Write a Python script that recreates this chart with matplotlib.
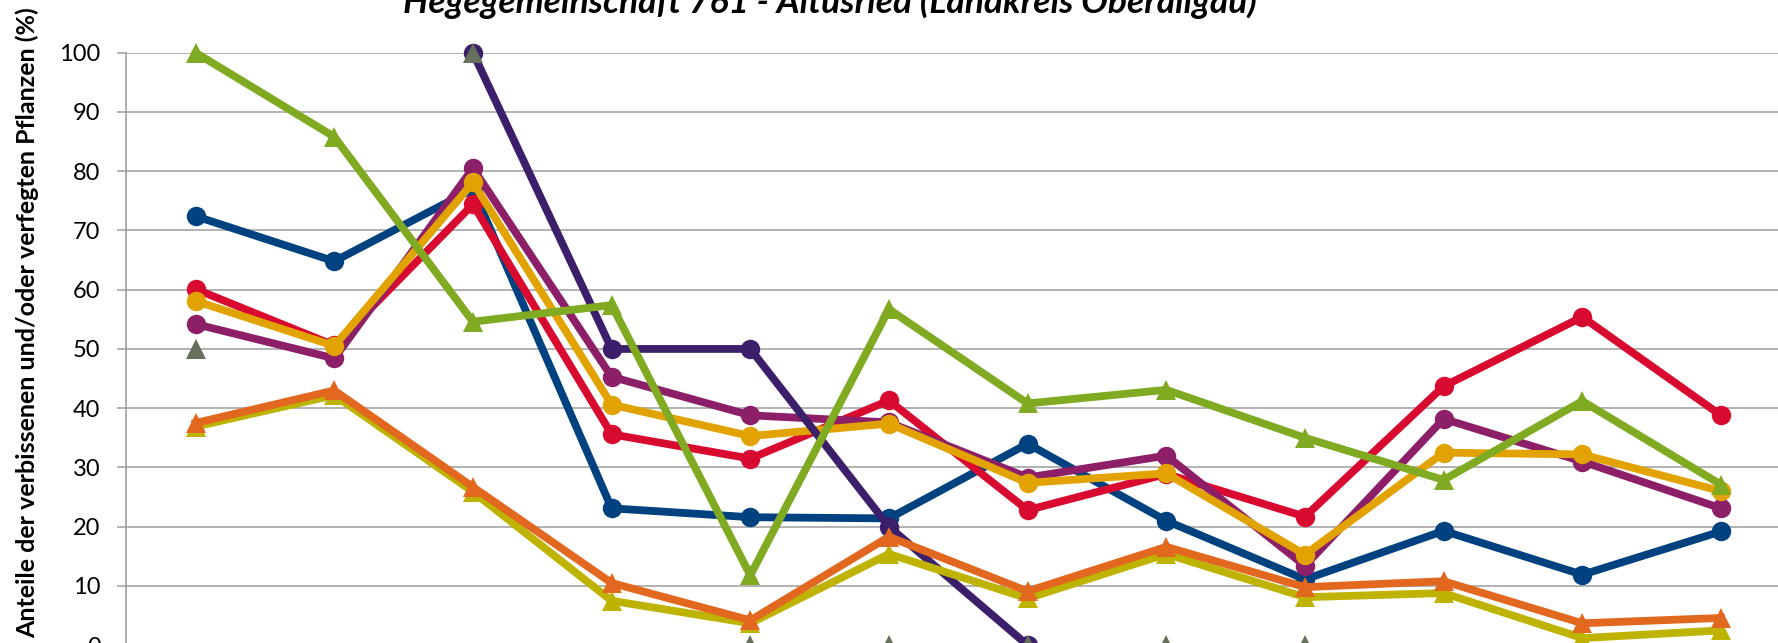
import numpy as np
import matplotlib
matplotlib.use("Agg")
import matplotlib.pyplot as plt

plt.rcParams["font.family"] = ["Lato", "DejaVu Sans"]

nan = np.nan
positions = list(range(12))

# circle series
blue = [72.4, 64.8, 77.0, 23.1, 21.6, 21.4, 34.0, 21.0, 11.1, 19.3, 11.9, 19.2]
red = [60.1, 50.6, 74.4, 35.6, 31.5, 41.3, 22.8, 28.9, 21.7, 43.7, 55.4, 38.8]
purple = [54.2, 48.4, 80.5, 45.3, 38.8, 37.6, 28.3, 32.0, 13.4, 38.2, 31.0, 23.1]
gold = [58.1, 50.5, 78.1, 40.6, 35.3, 37.4, 27.4, 29.0, 15.3, 32.5, 32.2, 26.0]
darkpurple = [nan, nan, 100.0, 50.0, 50.0, 20.0, 0.0, nan, nan, nan, nan, nan]
# triangle series
green = [100.0, 85.8, 54.6, 57.4, 11.8, 56.7, 40.8, 43.1, 35.0, 27.9, 41.2, 27.1]
gray = [50.0, nan, 100.0, nan, 0.0, 0.0, 0.0, 0.0, 0.0, nan, nan, nan]
olive = [36.9, 42.2, 25.9, 7.5, 3.7, 15.4, 7.9, 15.4, 8.1, 8.8, 1.2, 2.5]
orange = [37.5, 43.0, 26.7, 10.5, 4.2, 18.3, 9.1, 16.6, 9.8, 10.8, 3.7, 4.6]

yticks = [0, 10, 20, 30, 40, 50, 60, 70, 80, 90, 100]
title = "Hegegemeinschaft 761 - Altusried (Landkreis Oberallgäu)"
ylabel = "Anteile der verbissenen und/oder verfegten Pflanzen (%)"

W, H = 1778, 643
fig = plt.figure(figsize=(W / 100, H / 100), dpi=100)
ax = fig.add_axes([126.3 / W, (H - 645.2) / H, 1664 / W, 592.5 / H])

lw = 5.6
series = [
    (blue, "#00427F", "o", 14, lw),
    (red, "#D90A2F", "o", 14, lw),
    (purple, "#8C1F68", "o", 14, lw),
    (gold, "#E2A300", "o", 14, lw),
    (darkpurple, "#3C1F6A", "o", 14, lw),
    (green, "#7FAA22", "^", 15, lw),
    (gray, "#66705C", "^", 14, 3),
    (olive, "#BDB300", "^", 15, lw),
    (orange, "#E2681F", "^", 15, lw),
]
for vals, col, mk, ms, w in series:
    ax.plot(positions, vals, color=col, marker=mk, markersize=ms, lw=w,
            markeredgewidth=0, solid_joinstyle="round", clip_on=False)

ax.set_xlim(-0.5, 11.5)
ax.set_ylim(0, 100)
ax.set_yticks(yticks)
ax.set_xticks([])
ax.yaxis.grid(True, color="#A6A6A6", lw=1.2)
ax.set_axisbelow(True)
for s in ["top", "right", "bottom"]:
    ax.spines[s].set_visible(False)
ax.spines["left"].set_color("#A0A0A0")
ax.spines["left"].set_linewidth(1.2)
ax.tick_params(axis="y", length=6.5, width=1.2, color="#A6A6A6",
               labelsize=17, pad=12, labelcolor="black")

fig.text(0.5 * (403 + 1256) / W, (H - 13) / H, title, ha="center", va="baseline",
         fontsize=25.5, fontweight="bold", fontstyle="italic")
fig.text(27 / W, (H - 638) / H, ylabel, rotation=90, ha="center", va="bottom",
         fontsize=18, fontweight="bold")

fig.savefig("out.png", dpi=100)
